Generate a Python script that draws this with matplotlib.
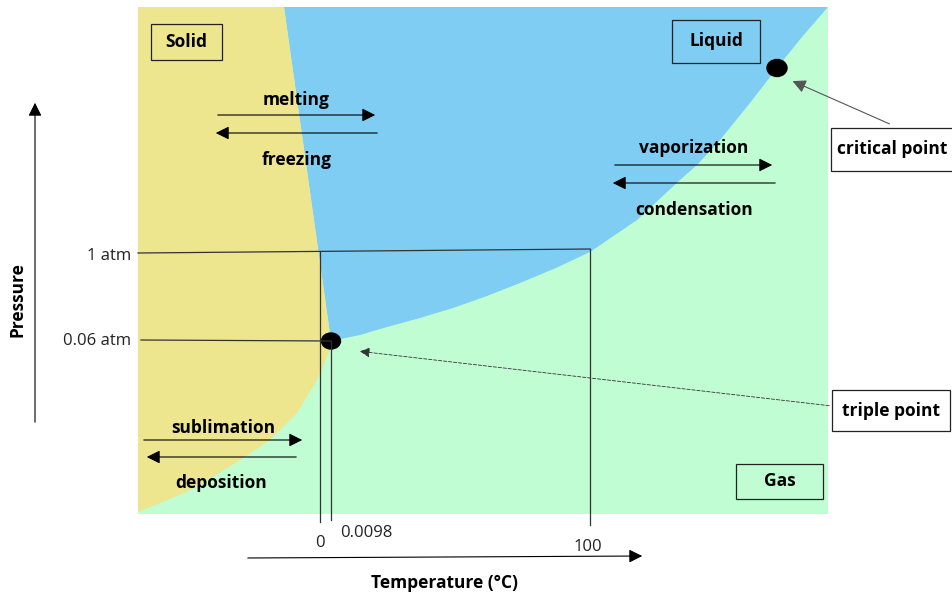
import numpy as np
from matplotlib import pyplot as plt
from matplotlib.patches import Polygon, Ellipse, FancyArrowPatch

# canvas in pixel units (y grows downward), 953 x 598
W, H = 953, 598
plt.rcParams["font.family"] = ["Open Sans", "DejaVu Sans"]

# plot frame
frame_x = [138, 828]
frame_y = [7, 514]

# phase boundaries
triple = (331, 341)
critical = (777, 68)
fusion_x = [284, 331]
fusion_y = [7, 341]
vapor_x = [331, 360, 387, 420, 453, 487, 520, 556, 590, 637, 680, 697, 720, 750, 777, 802, 828]
vapor_y = [341, 335, 327, 318, 308, 296, 283, 268, 252, 220, 180, 165, 140, 103, 68, 37, 7]
sublim_x = [331, 330, 317, 297, 270, 240, 197, 170, 138]
sublim_y = [341, 350, 380, 413, 440, 460, 487, 499, 512]

# colours of the three regions
c_solid = "#ede68f"
c_liquid = "#7fcdf2"
c_gas = "#c1fdd3"

# reference lines and tick labels
p_ticks = ["1 atm", "0.06 atm"]
p_tick_y = [256, 341]
t_ticks = ["0", "0.0098", "100"]
t_tick_x = [320, 366, 588]
t_tick_y = [543, 533, 547]

# process arrows: (label, x_start, x_end, y_arrow, y_text)
processes = [
    ("melting", 215, 378, 115, 100),
    ("freezing", 380, 213, 133, 160),
    ("vaporization", 612, 775, 165, 148),
    ("condensation", 778, 610, 183, 210),
    ("sublimation", 141, 305, 440, 428),
    ("deposition", 299, 144, 457, 483),
]

fig = plt.figure(figsize=(W / 100, H / 100), dpi=100)
ax = fig.add_axes([0, 0, 1, 1])
ax.set_xlim(0, W)
ax.set_ylim(H, 0)
ax.axis("off")

x0, x1 = frame_x
y0, y1 = frame_y
# gas fills whole frame, then liquid and solid over it
ax.add_patch(Polygon([(x0, y0), (x1, y0), (x1, y1), (x0, y1)], color=c_gas, lw=0))
liq = list(zip(fusion_x, fusion_y)) + list(zip(vapor_x, vapor_y))[1:]
ax.add_patch(Polygon(liq, color=c_liquid, lw=0))
sol = [(x0, y0)] + list(zip(fusion_x, fusion_y)) + list(zip(sublim_x, sublim_y))[1:]
ax.add_patch(Polygon(sol, color=c_solid, lw=0))

# reference lines
ax.plot([x0, 590], [253, 249], color="#333", lw=0.9)
ax.plot([320, 320], [252, 522], color="#333", lw=0.9)
ax.plot([590, 590], [249, 525], color="#333", lw=0.9)
ax.plot([141, triple[0]], [340, 341], color="#333", lw=0.9)
ax.plot([triple[0], triple[0]], [341, 520], color="#333", lw=0.9)

for lab, yy in zip(p_ticks, p_tick_y):
    ax.text(131, yy, lab, ha="right", va="center", fontsize=12, color="#222")
for lab, xx, yy in zip(t_ticks, t_tick_x, t_tick_y):
    ax.text(xx, yy, lab, ha="center", va="center", fontsize=12, color="#222")

# points
ax.add_patch(Ellipse(triple, 19, 16, color="black"))
ax.add_patch(Ellipse(critical, 20, 17, color="black"))

# axis arrows
ax.add_patch(FancyArrowPatch((35, 425), (35, 100), arrowstyle="-|>,head_length=8,head_width=4",
                             color="black", lw=0.8))
ax.add_patch(FancyArrowPatch((245, 558), (645, 556), arrowstyle="-|>,head_length=8,head_width=4",
                             color="black", lw=0.8))
ax.text(18, 300, "Pressure", rotation=90, ha="center", va="center", fontsize=12.5, fontweight="bold")
ax.text(445, 583, "Temperature (°C)", ha="center", va="center", fontsize=12.5, fontweight="bold")

# process arrows with labels
for lab, xs, xe, ya, yt in processes:
    ax.add_patch(FancyArrowPatch((xs, ya), (xe, ya), arrowstyle="-|>,head_length=8,head_width=4",
                                 color="black", lw=0.8))
    ax.text((xs + xe) / 2, yt, lab, ha="center", va="center", fontsize=12.5, fontweight="bold")

# region / point labels in boxes: (text, left, top, right, bottom, face)
boxes = [
    ("Solid", 151, 24, 222, 60, "none"),
    ("Liquid", 672, 20, 760, 63, "none"),
    ("Gas", 736, 464, 823, 499, "none"),
    ("critical point", 831, 128, 953, 171, "white"),
    ("triple point", 832, 390, 950, 431, "white"),
]
for lab, l, t, r, b, fc in boxes:
    ax.add_patch(Polygon([(l, t), (r, t), (r, b), (l, b)], closed=True, facecolor=fc,
                         edgecolor="#222", lw=0.9))
    ax.text((l + r) / 2, (t + b) / 2, lab, ha="center", va="center", fontsize=12.5, fontweight="bold")

# pointers
ax.add_patch(FancyArrowPatch((892, 125), (790, 80), arrowstyle="-|>,head_length=8,head_width=4",
                             color="#555", lw=0.8))
ax.add_patch(FancyArrowPatch((832, 406), (357, 351), arrowstyle="-|>,head_length=6,head_width=3",
                             color="#333", lw=0.6, linestyle=(0, (4, 2))))

fig.savefig("out.png", dpi=100)
